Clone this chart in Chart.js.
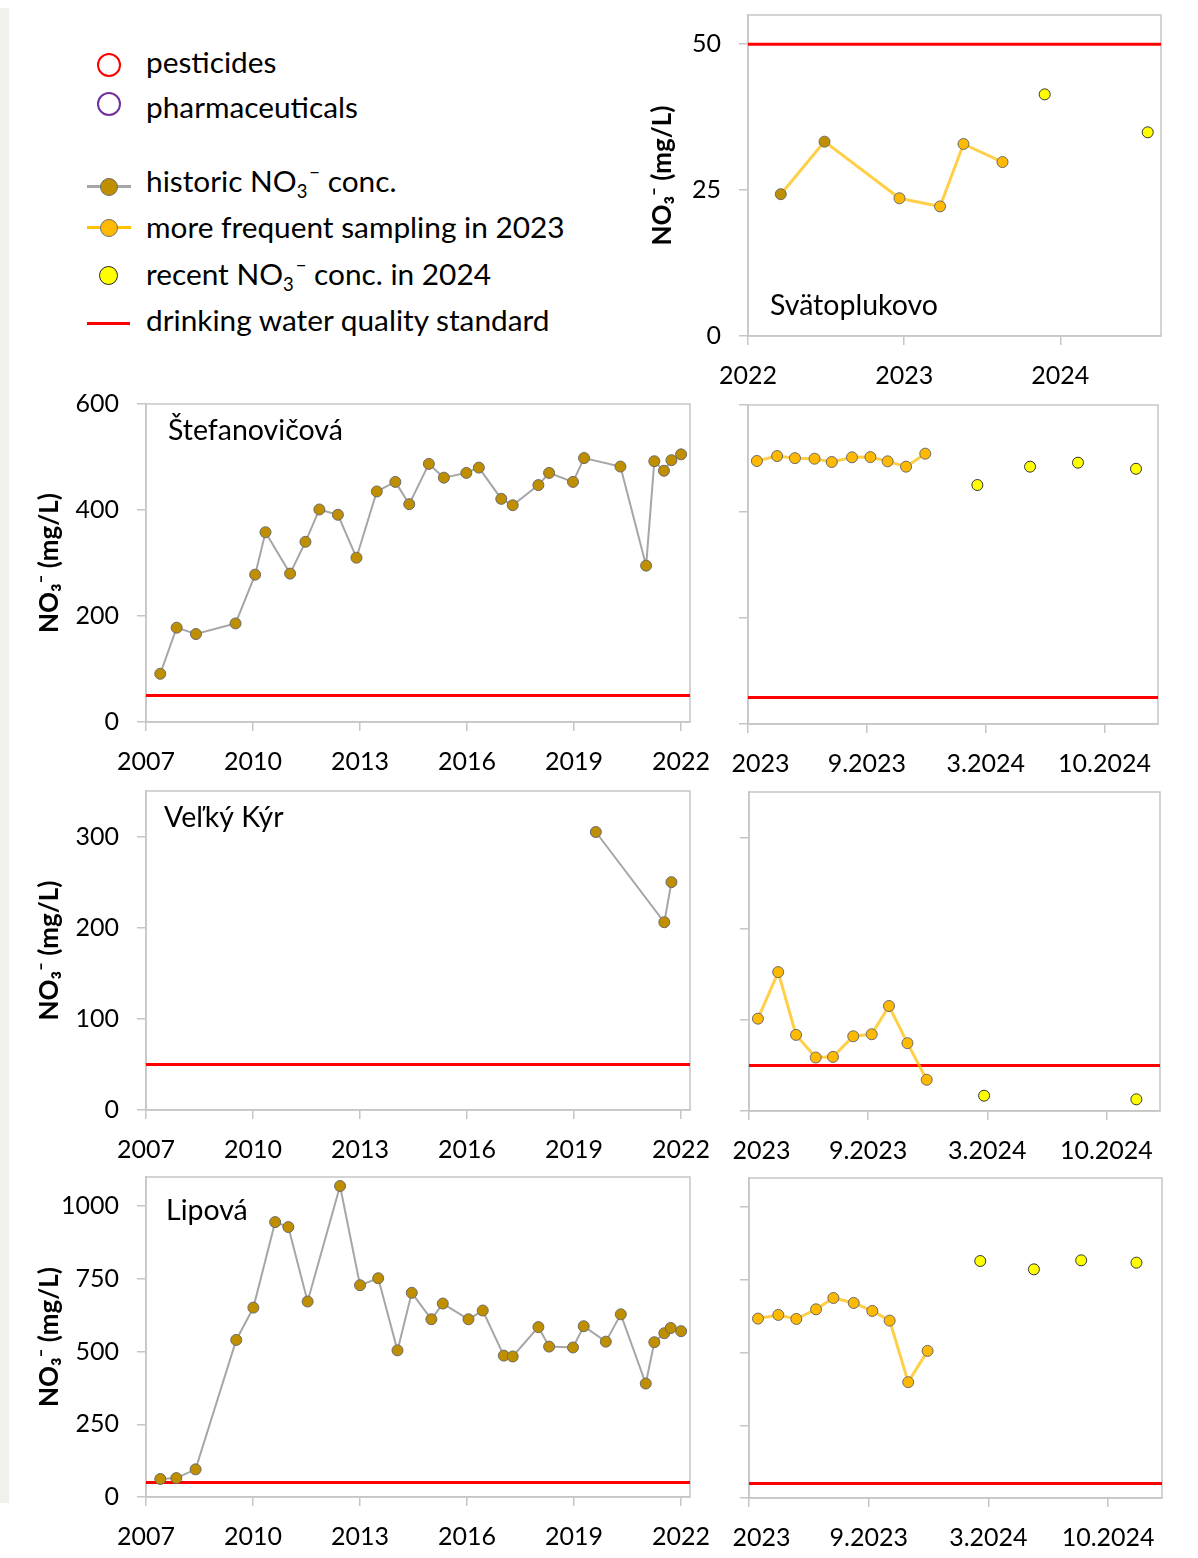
<!DOCTYPE html>
<html>
<head>
<meta charset="utf-8">
<script src="https://cdn.jsdelivr.net/npm/chart.js@4.4.1/dist/chart.umd.min.js"></script>
<style>
html,body{margin:0;padding:0;background:#fff;}
body{width:1198px;height:1558px;position:relative;overflow:hidden;font-family:Lato,"DejaVu Sans",sans-serif;}
.box{position:absolute;}
.strip{position:absolute;left:0;top:8px;width:9px;height:1495px;background:#F0F0ED;}
.leg{position:absolute;left:146px;font-size:29.8px;line-height:1.2;white-space:nowrap;color:#000;}
.sb{font-size:0.62em;position:relative;top:0.32em;}
.sp{font-size:0.62em;position:relative;top:-0.72em;margin-left:2px;}
.mk{position:absolute;box-sizing:border-box;border-radius:50%;}
.ln{position:absolute;height:3px;}
</style>
</head>
<body>
<div class="strip"></div>

<!-- legend -->
<div class="mk" style="left:97px;top:53px;width:24px;height:24px;border:2.5px solid #FF0000;"></div>
<div class="leg" style="top:44px;">pesticides</div>
<div class="mk" style="left:97px;top:92px;width:24px;height:24px;border:2.5px solid #7030A0;"></div>
<div class="leg" style="top:89px;">pharmaceuticals</div>

<div class="ln" style="left:87px;top:185px;width:44px;background:#A6A6A6;"></div>
<div class="mk" style="left:100px;top:178px;width:18px;height:18px;background:#BF8F00;border:1.5px solid #6E6E6E;"></div>
<div class="leg" style="top:163px;">historic NO<span class="sb">3</span><span class="sp">−</span> conc.</div>

<div class="ln" style="left:87px;top:226px;width:44px;background:#FFC000;"></div>
<div class="mk" style="left:100px;top:219px;width:18px;height:18px;background:#FFB900;border:1.5px solid #6E6E6E;"></div>
<div class="leg" style="top:209px;">more frequent sampling in 2023</div>

<div class="mk" style="left:99px;top:266px;width:19px;height:19px;background:#FFFF00;border:1.5px solid #222;"></div>
<div class="leg" style="top:256px;">recent NO<span class="sb">3</span><span class="sp">−</span> conc. in 2024</div>

<div class="ln" style="left:87px;top:322px;width:43px;background:#FF0000;"></div>
<div class="leg" style="top:302px;">drinking water quality standard</div>

<script>
// ---------------- DATA ----------------
const STANDARD = 50; // drinking water quality standard, mg/L

// Svätoplukovo
const svatHistX = [2022.21, 2022.49];
const svatHistY = [24.3, 33.3];
const svat23X = [2022.97, 2023.23, 2023.38, 2023.63];
const svat23Y = [23.6, 22.2, 32.9, 29.8];
const svat24X = [2023.90, 2024.56];
const svat24Y = [41.4, 34.9];

// shared sampling dates, 2023 campaign
const samp2023X = [2023.045, 2023.147, 2023.237, 2023.336, 2023.423, 2023.525, 2023.618, 2023.705, 2023.798, 2023.895];

// Štefanovičová
const stefHistX = [2007.40, 2007.86, 2008.40, 2009.51, 2010.06, 2010.35, 2011.04, 2011.47, 2011.86, 2012.38, 2012.90, 2013.47, 2013.99, 2014.38, 2014.93, 2015.35, 2015.98, 2016.33, 2016.96, 2017.28, 2018.00, 2018.30, 2018.97, 2019.28, 2020.30, 2021.02, 2021.25, 2021.52, 2021.73, 2022.00];
const stefHistY = [91, 178, 166, 186, 278, 358, 280, 340, 401, 391, 310, 435, 453, 411, 487, 461, 470, 480, 421, 409, 447, 470, 453, 498, 482, 295, 492, 474, 494, 505];
const stef23Y = [494.7, 504, 500, 499, 492.8, 501.6, 502, 494, 484, 508.5];
const stef24X = [2024.158, 2024.424, 2024.666, 2024.959];
const stef24Y = [449.5, 484, 491.5, 480];

// Veľký Kýr
const kyrHistX = [2019.61, 2021.53, 2021.73];
const kyrHistY = [305, 206, 250];
const kyr23Y = [101.3, 152.4, 83.5, 58.7, 59.4, 82, 84.2, 115.2, 74.4, 34.3];
const kyr24X = [2024.184, 2024.951];
const kyr24Y = [16.8, 12.8];

// Lipová
const lipHistX = [2007.40, 2007.85, 2008.39, 2009.53, 2010.01, 2010.62, 2010.99, 2011.53, 2012.44, 2013.00, 2013.51, 2014.05, 2014.45, 2015.00, 2015.32, 2016.04, 2016.44, 2017.03, 2017.28, 2018.00, 2018.30, 2018.97, 2019.27, 2019.89, 2020.31, 2021.01, 2021.25, 2021.53, 2021.71, 2022.00];
const lipHistY = [62, 65, 95, 540, 651, 945, 928, 672, 1069, 728, 752, 504, 702, 611, 665, 611, 641, 486, 483, 584, 517, 514, 587, 534, 628, 390, 532, 563, 581, 570];
const lip23Y = [616.7, 629.3, 615.6, 648.7, 687.6, 670.5, 643, 609.8, 398.2, 505.7];
const lip24X = [2024.159, 2024.428, 2024.665, 2024.942];
const lip24Y = [814.6, 786, 817, 809];

// tick positions and labels
const histTicks = [2007, 2010, 2013, 2016, 2019, 2022];
const histTickLabels = ['2007', '2010', '2013', '2016', '2019', '2022'];
const recentTicks = [2023, 2023.6, 2024.2, 2024.8];
const recentTickLabels = ['\u2002\u20022023', '9.2023', '3.2024', '10.2024'];
const svatTicks = [2022, 2023, 2024];
const svatTickLabels = ['2022', '2023', '2024'];
const svatYTicks = [0, 25, 50];
const stefYTicks = [0, 200, 400, 600];
const kyrYTicks = [0, 100, 200, 300];
const lipYTicks = [0, 250, 500, 750, 1000];

// ---------------- STYLE ----------------
const GRAY = '#C6C6C6';
const FONT = 'Lato, "DejaVu Sans", sans-serif';
const C_HIST_LINE = '#A6A6A6';
const C_HIST_PT = '#BF8F00';
const C_23_LINE = 'rgba(255,190,0,0.72)';
const C_23_PT = '#FFB900';
const C_24_PT = '#FFFF00';
const C_PT_BORDER = '#6A6A6A';
const YTITLE = 'NO\u2083\u207B (mg/L)';

function pts(xs, ys) { return xs.map((v, i) => ({ x: v, y: ys[i] })); }

const framePlugin = {
  id: 'frame',
  beforeDatasetsDraw(chart) {
    const { ctx, chartArea: a } = chart;
    ctx.save();
    ctx.strokeStyle = GRAY;
    ctx.lineWidth = 1.5;
    ctx.strokeRect(a.left, a.top, a.right - a.left, a.bottom - a.top);
    ctx.restore();
  }
};
const labelPlugin = {
  id: 'siteLabel',
  afterDraw(chart, args, o) {
    if (!o || !o.text) return;
    const { ctx, chartArea: a } = chart;
    ctx.save();
    ctx.font = '28.5px ' + FONT;
    ctx.fillStyle = '#000';
    ctx.textBaseline = 'alphabetic';
    ctx.textAlign = 'left';
    const y = o.fromBottom ? a.bottom - o.dy : a.top + o.dy;
    ctx.fillText(o.text, a.left + o.dx, y);
    ctx.restore();
  }
};
Chart.register(framePlugin, labelPlugin);

function dsHist(p) {
  return { data: p, showLine: true, borderColor: C_HIST_LINE, borderWidth: 2, pointRadius: 5.5,
    pointBackgroundColor: C_HIST_PT, pointBorderColor: C_PT_BORDER, pointBorderWidth: 1, order: 1 };
}
function ds23(p, bg) {
  return { data: p, showLine: true, borderColor: C_23_LINE, borderWidth: 3, pointRadius: 5.5,
    pointBackgroundColor: bg || C_23_PT, pointBorderColor: C_PT_BORDER, pointBorderWidth: 1, order: 2 };
}
function ds24(p) {
  return { data: p, showLine: false, pointRadius: 5.5, pointBackgroundColor: C_24_PT,
    pointBorderColor: '#333', pointBorderWidth: 1, order: 1 };
}
function dsStd(xmin, xmax) {
  return { data: [{ x: xmin, y: STANDARD }, { x: xmax, y: STANDARD }], showLine: true,
    borderColor: '#FF0000', borderWidth: 3, pointRadius: 0, order: 5 };
}

function build(cfg) {
  const { box, area } = cfg;
  const div = document.createElement('div');
  div.className = 'box';
  div.style.left = box.l + 'px'; div.style.top = box.t + 'px';
  div.style.width = (box.r - box.l) + 'px'; div.style.height = (box.b - box.t) + 'px';
  const cv = document.createElement('canvas');
  div.appendChild(cv);
  document.body.appendChild(div);
  const yW = area.l - box.l, xH = box.b - area.b;
  const tickFont = { family: FONT, size: 25 };
  new Chart(cv, {
    type: 'scatter',
    data: { datasets: cfg.datasets },
    options: {
      responsive: true, maintainAspectRatio: false, animation: false,
      layout: { padding: { left: 0, top: area.t - box.t, right: box.r - area.r, bottom: 0 } },
      plugins: { legend: { display: false }, tooltip: { enabled: false }, siteLabel: cfg.label },
      scales: {
        x: {
          type: 'linear', min: cfg.xmin, max: cfg.xmax,
          afterBuildTicks: (ax) => { ax.ticks = cfg.xt.map(v => ({ value: v })); },
          afterFit: (s) => { s.height = xH; },
          ticks: { callback: (v) => cfg.xl[cfg.xt.indexOf(v)], font: tickFont, color: '#000',
            padding: 16, maxRotation: 0, autoSkip: false },
          grid: { drawOnChartArea: false, drawTicks: true, tickLength: 9, color: GRAY, lineWidth: 1.5 },
          border: { color: GRAY, width: 1.5 }
        },
        y: {
          type: 'linear', min: cfg.ymin, max: cfg.ymax,
          afterBuildTicks: (ax) => { ax.ticks = cfg.yt.map(v => ({ value: v })); },
          afterFit: (s) => { s.width = yW; },
          ticks: { display: cfg.yLabels, font: tickFont, color: '#000', padding: 18,
            callback: (v) => String(v) },
          grid: { drawOnChartArea: false, drawTicks: true, tickLength: 9, color: GRAY, lineWidth: 1.5 },
          border: { color: GRAY, width: 1.5 },
          title: { display: !!cfg.yTitle, text: YTITLE, color: '#000',
            font: { family: FONT, size: 26, weight: 'bold' },
            padding: { top: cfg.titlePad || 0, bottom: 0 } }
        }
      }
    }
  });
}

// ---------------- CHARTS ----------------
const HX = [2007, 2022.25];
const RX = [2023, 2025.07];
const SX = [2022, 2024.645];

// Svätoplukovo
const svatLine = pts(svatHistX.concat(svat23X), svatHistY.concat(svat23Y));
const svatColors = svatHistX.map(() => C_HIST_PT).concat(svat23X.map(() => C_23_PT));
build({
  box: { l: 620, t: -40, r: 1198, b: 396 }, area: { l: 748, t: 15, r: 1161, b: 336 },
  xmin: SX[0], xmax: SX[1], xt: svatTicks, xl: svatTickLabels,
  ymin: 0, ymax: 55, yt: svatYTicks, yLabels: true, yTitle: true, titlePad: 27.4,
  label: { text: 'Svätoplukovo', dx: 22, dy: 21, fromBottom: true },
  datasets: [ds23(svatLine, svatColors), ds24(pts(svat24X, svat24Y)), dsStd(SX[0], SX[1])]
});

// Štefanovičová
build({
  box: { l: 0, t: 364, r: 740, b: 782 }, area: { l: 146, t: 404, r: 690, b: 722 },
  xmin: HX[0], xmax: HX[1], xt: histTicks, xl: histTickLabels,
  ymin: 0, ymax: 600, yt: stefYTicks, yLabels: true, yTitle: true, titlePad: 34.4,
  label: { text: 'Štefanovičová', dx: 22, dy: 36 },
  datasets: [dsHist(pts(stefHistX, stefHistY)), dsStd(HX[0], HX[1])]
});
build({
  box: { l: 670, t: 364, r: 1198, b: 784 }, area: { l: 748, t: 405, r: 1158, b: 724 },
  xmin: RX[0], xmax: RX[1], xt: recentTicks, xl: recentTickLabels,
  ymin: 0, ymax: 600, yt: stefYTicks, yLabels: false,
  datasets: [ds23(pts(samp2023X, stef23Y)), ds24(pts(stef24X, stef24Y)), dsStd(RX[0], RX[1])]
});

// Veľký Kýr
build({
  box: { l: 0, t: 751, r: 740, b: 1170 }, area: { l: 146, t: 791, r: 690, b: 1110 },
  xmin: HX[0], xmax: HX[1], xt: histTicks, xl: histTickLabels,
  ymin: 0, ymax: 350, yt: kyrYTicks, yLabels: true, yTitle: true, titlePad: 34.4,
  label: { text: 'Veľký Kýr', dx: 18, dy: 36 },
  datasets: [dsHist(pts(kyrHistX, kyrHistY)), dsStd(HX[0], HX[1])]
});
build({
  box: { l: 670, t: 752, r: 1198, b: 1171 }, area: { l: 749, t: 792, r: 1160, b: 1111 },
  xmin: RX[0], xmax: RX[1], xt: recentTicks, xl: recentTickLabels,
  ymin: 0, ymax: 350, yt: kyrYTicks, yLabels: false,
  datasets: [ds23(pts(samp2023X, kyr23Y)), ds24(pts(kyr24X, kyr24Y)), dsStd(RX[0], RX[1])]
});

// Lipová
build({
  box: { l: 0, t: 1137, r: 740, b: 1557 }, area: { l: 146, t: 1177, r: 690, b: 1497 },
  xmin: HX[0], xmax: HX[1], xt: histTicks, xl: histTickLabels,
  ymin: 0, ymax: 1100, yt: lipYTicks, yLabels: true, yTitle: true, titlePad: 34.4,
  label: { text: 'Lipová', dx: 20, dy: 43 },
  datasets: [dsHist(pts(lipHistX, lipHistY)), dsStd(HX[0], HX[1])]
});
build({
  box: { l: 670, t: 1138, r: 1198, b: 1558 }, area: { l: 749, t: 1178, r: 1162, b: 1498 },
  xmin: RX[0], xmax: RX[1], xt: recentTicks, xl: recentTickLabels,
  ymin: 0, ymax: 1100, yt: lipYTicks, yLabels: false,
  datasets: [ds23(pts(samp2023X, lip23Y)), ds24(pts(lip24X, lip24Y)), dsStd(RX[0], RX[1])]
});
</script>
</body>
</html>
